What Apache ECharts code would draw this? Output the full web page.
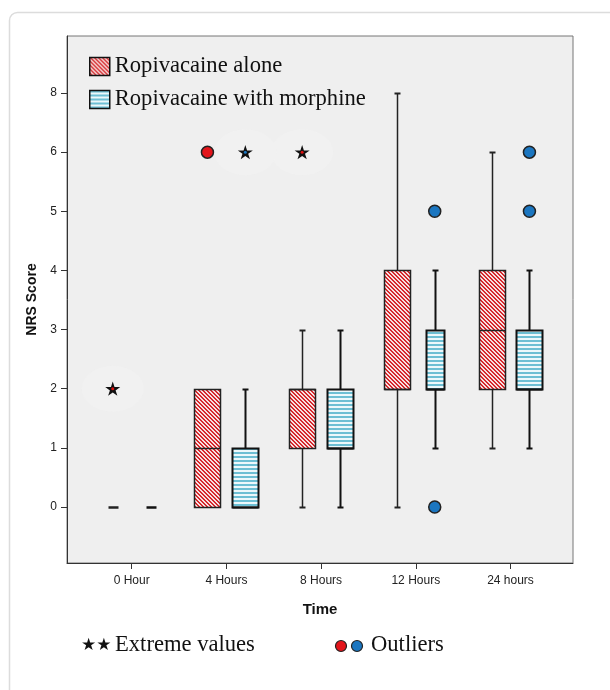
<!DOCTYPE html>
<html>
<head>
<meta charset="utf-8">
<title>NRS Score by Time</title>
<script src="https://cdn.jsdelivr.net/npm/echarts@6/dist/echarts.min.js"></script>
<style>
  html, body { margin: 0; padding: 0; background: #fff; }
  #chart { width: 610px; height: 690px; }
</style>
</head>
<body>
<div id="chart"></div>
<script>
// categories on the x axis
var categories = ['0 Hour', '4 Hours', '8 Hours', '12 Hours', '24 hours'];
// y tick labels, one per tick position 0..7 (the figure labels the top tick "8")
var yTickLabels = ['0', '1', '2', '3', '4', '5', '6', '8'];

// boxes: [category, min, q1, median, q3, max] in tick positions
var aloneBoxes = [
    [0, 0, 0, 0, 0, 0],
    [1, 0, 0, 1, 2, 2],
    [2, 0, 1, 2, 2, 3],
    [3, 0, 2, 2, 4, 7],
    [4, 1, 2, 3, 4, 6]
];
var morphineBoxes = [
    [0, 0, 0, 0, 0, 0],
    [1, 0, 0, 0, 1, 2],
    [2, 0, 1, 1, 2, 3],
    [3, 1, 2, 2, 3, 4],
    [4, 1, 2, 2, 3, 4]
];

// [category, value]
var aloneExtremes = [[0, 2], [2, 6]];
var morphineExtremes = [[1, 6]];
var aloneOutliers = [[1, 6]];
var morphineOutliers = [[3, 5], [3, 0], [4, 5], [4, 6]];

var OFFSET = 0.2;      // side-by-side shift of the two groups, in category units
var aloneHalf = [13, 13, 13, 13, 13];
var morphineHalf = [13, 13, 13, 9, 13];

var STAR = 'path://M100,0L122.3,69.3L195.1,69.1L136.1,111.7L158.8,180.9L100,138L41.2,180.9L63.9,111.7L4.9,69.1L77.7,69.3Z';

function tile(fn) {
    var c = document.createElement('canvas');
    c.width = 4; c.height = 4;
    var g = c.getContext('2d');
    for (var y = 0; y < 4; y++) {
        for (var x = 0; x < 4; x++) {
            g.fillStyle = fn(x, y);
            g.fillRect(x, y, 1, 1);
        }
    }
    return c;
}
var redHatch = { image: tile(function (x, y) { return ((x - y + 8) % 4 < 2) ? '#d6282d' : '#f7e0e0'; }), repeat: 'repeat' };
var blueLines = { image: tile(function (x, y) { return y < 2 ? '#6dbfd4' : '#ecf8fb'; }), repeat: 'repeat' };

function boxRenderer(offset, fill, edge, lw, halves) {
    return function (params, api) {
        var i = api.value(0);
        var lo = api.value(1), q1 = api.value(2), med = api.value(3), q3 = api.value(4), hi = api.value(5);
        var cx = Math.round(api.coord([i + offset, 0])[0]) + 0.5;
        var py = function (v) { return Math.round(api.coord([i + offset, v])[1]) + 0.5; };
        var half = halves[i];
        var line = function (x1, y1, x2, y2, w) {
            return { type: 'line', shape: { x1: x1, y1: y1, x2: x2, y2: y2 }, style: { stroke: edge, lineWidth: w || lw } };
        };
        var kids = [];
        if (q1 === q3) {
            kids.push(line(cx - 5, py(q1), cx + 5, py(q1), 2.5));
            return { type: 'group', children: kids };
        }
        if (hi > q3) {
            kids.push(line(cx, py(hi), cx, py(q3)));
            kids.push(line(cx - 3, py(hi), cx + 3, py(hi), 2));
        }
        if (lo < q1) {
            kids.push(line(cx, py(q1), cx, py(lo)));
            kids.push(line(cx - 3, py(lo), cx + 3, py(lo), 2));
        }
        kids.push({
            type: 'rect',
            shape: { x: cx - half, y: py(q3), width: 2 * half, height: py(q1) - py(q3) },
            style: { fill: fill, stroke: edge, lineWidth: lw }
        });
        kids.push(line(cx - half, py(med), cx + half, py(med)));
        return { type: 'group', children: kids };
    };
}

function shift(points, offset) {
    return points.map(function (p) { return [p[0] + offset, p[1]]; });
}

var chart = echarts.init(document.getElementById('chart'), null, { renderer: 'canvas' });

var option = {
    animation: false,
    backgroundColor: '#fff',
    grid: {
        left: 67, top: 36, width: 506, height: 527,
        show: true, backgroundColor: '#efefef', borderColor: '#777', borderWidth: 1
    },
    legend: {
        data: ['Ropivacaine alone', 'Ropivacaine with morphine'],
        orient: 'vertical',
        left: 89, top: 55,
        padding: 0,
        icon: 'rect',
        itemWidth: 20, itemHeight: 18, itemGap: 10,
        itemStyle: { borderColor: '#111', borderWidth: 1.5 },
        selectedMode: false,
        textStyle: { fontFamily: 'Liberation Serif', fontSize: 22.6, color: '#111' }
    },
    xAxis: {
        type: 'value',
        min: -0.683, max: 4.66,
        name: 'Time',
        nameLocation: 'middle',
        nameGap: 39,
        nameTextStyle: { fontFamily: 'Liberation Sans', fontWeight: 'bold', fontSize: 15, color: '#111' },
        splitLine: { show: false },
        axisLine: { show: true, onZero: false, lineStyle: { color: '#333', width: 1 } },
        axisTick: { show: true, customValues: [0, 1, 2, 3, 4], length: 6, lineStyle: { color: '#333' } },
        axisLabel: {
            customValues: [0, 1, 2, 3, 4],
            margin: 12,
            fontFamily: 'Liberation Sans', fontSize: 12, color: '#222',
            formatter: function (v) { return categories[v]; }
        }
    },
    yAxis: {
        type: 'value',
        min: -0.947, max: 7.964,
        name: 'NRS Score',
        nameLocation: 'middle',
        nameGap: 28,
        nameTextStyle: { fontFamily: 'Liberation Sans', fontWeight: 'bold', fontSize: 14, color: '#111' },
        splitLine: { show: false },
        axisLine: { show: true, onZero: false, lineStyle: { color: '#333', width: 1 } },
        axisTick: { show: true, customValues: [0, 1, 2, 3, 4, 5, 6, 7], length: 6, lineStyle: { color: '#333' } },
        axisLabel: {
            customValues: [0, 1, 2, 3, 4, 5, 6, 7],
            margin: 10,
            fontFamily: 'Liberation Sans', fontSize: 12, color: '#222',
            formatter: function (v) { return yTickLabels[v]; }
        }
    },
    series: [
        {
            name: 'halo', type: 'scatter', silent: true,
            symbol: 'circle', symbolSize: [62, 46],
            itemStyle: { color: '#f1f1f1' },
            data: shift(aloneExtremes, -OFFSET).concat(shift(morphineExtremes, OFFSET)),
            z: 1
        },
        {
            name: 'Ropivacaine alone', type: 'custom',
            renderItem: boxRenderer(-OFFSET, redHatch, '#222', 1.5, aloneHalf),
            itemStyle: { color: redHatch },
            encode: { x: 0, y: [1, 2, 3, 4, 5] },
            data: aloneBoxes, z: 3
        },
        {
            name: 'Ropivacaine with morphine', type: 'custom',
            renderItem: boxRenderer(OFFSET, blueLines, '#111', 2, morphineHalf),
            itemStyle: { color: blueLines },
            encode: { x: 0, y: [1, 2, 3, 4, 5] },
            data: morphineBoxes, z: 3
        },
        {
            name: 'outliers alone', type: 'scatter', symbol: 'circle', symbolSize: 12,
            itemStyle: { color: '#e3151b', borderColor: '#222', borderWidth: 1.5, opacity: 1 },
            data: shift(aloneOutliers, -OFFSET), z: 4
        },
        {
            name: 'outliers morphine', type: 'scatter', symbol: 'circle', symbolSize: 12,
            itemStyle: { color: '#1b76c0', borderColor: '#222', borderWidth: 1.5, opacity: 1 },
            data: shift(morphineOutliers, OFFSET), z: 4
        },
        {
            name: 'extremes', type: 'scatter', symbol: STAR, symbolKeepAspect: true, symbolSize: 15,
            itemStyle: { color: '#111', opacity: 1 },
            data: shift(aloneExtremes, -OFFSET).concat(shift(morphineExtremes, OFFSET)), z: 4
        },
        {
            name: 'extreme dots alone', type: 'scatter', symbol: 'circle', symbolSize: 3,
            itemStyle: { color: '#d11', opacity: 1 },
            data: shift(aloneExtremes, -OFFSET), z: 5
        },
        {
            name: 'extreme dots morphine', type: 'scatter', symbol: 'circle', symbolSize: 3,
            itemStyle: { color: '#1b76c0', opacity: 1 },
            data: shift(morphineExtremes, OFFSET), z: 5
        }
    ],
    graphic: [
        {
            type: 'rect', left: 7, top: 10, silent: true,
            shape: { width: 640, height: 720, r: 8 },
            style: { fill: 'none', stroke: '#dcdcdc', lineWidth: 1.5 }
        },
        {
            type: 'text', left: 81, top: 637,
            style: { text: '★★', font: '17px "DejaVu Sans"', fill: '#111' }
        },
        {
            type: 'text', left: 115, top: 634,
            style: { text: 'Extreme values', font: '22.6px "Liberation Serif"', fill: '#111' }
        },
        {
            type: 'circle', shape: { cx: 341, cy: 646, r: 5.5 },
            style: { fill: '#e3151b', stroke: '#222', lineWidth: 1.2 }
        },
        {
            type: 'circle', shape: { cx: 357, cy: 646, r: 5.5 },
            style: { fill: '#1b76c0', stroke: '#222', lineWidth: 1.2 }
        },
        {
            type: 'text', left: 371, top: 634,
            style: { text: 'Outliers', font: '22.6px "Liberation Serif"', fill: '#111' }
        }
    ]
};

chart.setOption(option);
</script>
</body>
</html>
